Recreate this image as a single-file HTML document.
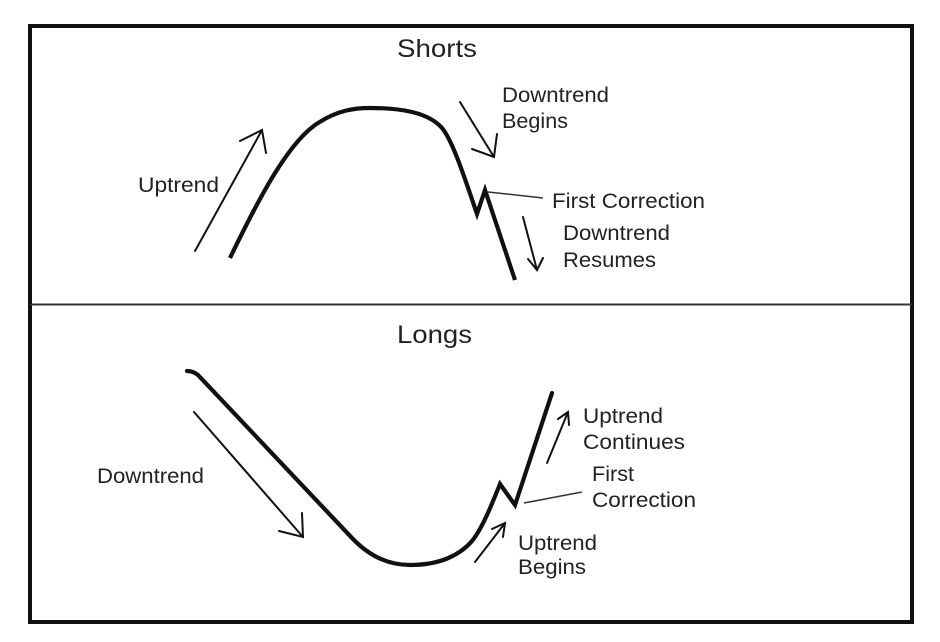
<!DOCTYPE html>
<html>
<head>
<meta charset="utf-8">
<style>
  html, body { margin: 0; padding: 0; background: #ffffff; }
  body { width: 940px; height: 642px; overflow: hidden; }
  svg { display: block; }
  text { font-family: "Liberation Sans", "DejaVu Sans", sans-serif; fill: #222; }
</style>
</head>
<body>
<svg width="940" height="642" viewBox="0 0 940 642" xmlns="http://www.w3.org/2000/svg">
  <rect x="0" y="0" width="940" height="642" fill="#fff"/>
  <!-- outer frame -->
  <rect x="30" y="26" width="882" height="596" fill="none" stroke="#111" stroke-width="4"/>
  <!-- divider -->
  <line x1="30" y1="304.5" x2="912" y2="304.5" stroke="#333" stroke-width="2"/>

  <!-- titles -->
  <text x="397" y="57" font-size="25" textLength="80" lengthAdjust="spacingAndGlyphs">Shorts</text>
  <text x="397" y="343" font-size="25" textLength="75" lengthAdjust="spacingAndGlyphs">Longs</text>

  <!-- ===== Shorts panel ===== -->
  <path d="M230,258 C258,200 288,142 318,123 C338,110 355,108 370,108 C400,108 428,112 442,128 C453,141 466,182 477,214 L485,190 L515,280"
        fill="none" stroke="#111" stroke-width="4.2" stroke-linejoin="miter" stroke-linecap="butt"/>

  <!-- Uptrend arrow -->
  <g stroke="#111" stroke-width="2" fill="none" stroke-linecap="round">
    <line x1="195" y1="251" x2="262" y2="130"/>
    <polyline points="240,141 262,130 266,153"/>
  </g>
  <text x="138" y="192" font-size="21" textLength="81" lengthAdjust="spacingAndGlyphs">Uptrend</text>

  <!-- Downtrend Begins arrow -->
  <g stroke="#111" stroke-width="2" fill="none" stroke-linecap="round">
    <line x1="460" y1="102" x2="494" y2="157"/>
    <polyline points="472,149 494,157 497,134"/>
  </g>
  <text x="502" y="102" font-size="21" textLength="107" lengthAdjust="spacingAndGlyphs">Downtrend</text>
  <text x="502" y="128" font-size="21" textLength="66" lengthAdjust="spacingAndGlyphs">Begins</text>

  <!-- First Correction leader -->
  <line x1="488" y1="192" x2="543" y2="198" stroke="#333" stroke-width="1.5"/>
  <text x="552" y="208" font-size="21" textLength="153" lengthAdjust="spacingAndGlyphs">First Correction</text>

  <!-- Downtrend Resumes arrow -->
  <g stroke="#111" stroke-width="2" fill="none" stroke-linecap="round">
    <line x1="523" y1="217" x2="537" y2="270"/>
    <polyline points="528,259 537,270 543,258"/>
  </g>
  <text x="563" y="240" font-size="21" textLength="107" lengthAdjust="spacingAndGlyphs">Downtrend</text>
  <text x="563" y="267" font-size="21" textLength="93" lengthAdjust="spacingAndGlyphs">Resumes</text>

  <!-- ===== Longs panel ===== -->
  <path d="M187,371 Q193,371 198,375 L352,538 C370,557 390,565 410,565 C440,565 460,555 472,541 C482,529 492,504 500,484 L515,505 L552,393"
        fill="none" stroke="#111" stroke-width="4.2" stroke-linejoin="miter" stroke-linecap="round"/>

  <!-- Downtrend arrow -->
  <g stroke="#111" stroke-width="2" fill="none" stroke-linecap="round">
    <line x1="194" y1="412" x2="303" y2="537"/>
    <polyline points="279,531 303,537 302,513"/>
  </g>
  <text x="97" y="483" font-size="21" textLength="107" lengthAdjust="spacingAndGlyphs">Downtrend</text>

  <!-- Uptrend Continues arrow -->
  <g stroke="#111" stroke-width="2" fill="none" stroke-linecap="round">
    <line x1="547" y1="463" x2="568" y2="412"/>
    <polyline points="558,419 568,412 569,425"/>
  </g>
  <text x="583" y="423" font-size="21" textLength="80" lengthAdjust="spacingAndGlyphs">Uptrend</text>
  <text x="583" y="449" font-size="21" textLength="102" lengthAdjust="spacingAndGlyphs">Continues</text>

  <!-- First Correction leader (bottom) -->
  <line x1="524" y1="503" x2="582" y2="492" stroke="#333" stroke-width="1.5"/>
  <text x="592" y="481" font-size="21" textLength="42" lengthAdjust="spacingAndGlyphs">First</text>
  <text x="592" y="507" font-size="21" textLength="104" lengthAdjust="spacingAndGlyphs">Correction</text>

  <!-- Uptrend Begins arrow -->
  <g stroke="#111" stroke-width="2" fill="none" stroke-linecap="round">
    <line x1="475" y1="562" x2="505" y2="523"/>
    <polyline points="492,529 505,523 503,537"/>
  </g>
  <text x="518" y="550" font-size="21" textLength="79" lengthAdjust="spacingAndGlyphs">Uptrend</text>
  <text x="518" y="574" font-size="21" textLength="68" lengthAdjust="spacingAndGlyphs">Begins</text>
</svg>
</body>
</html>
